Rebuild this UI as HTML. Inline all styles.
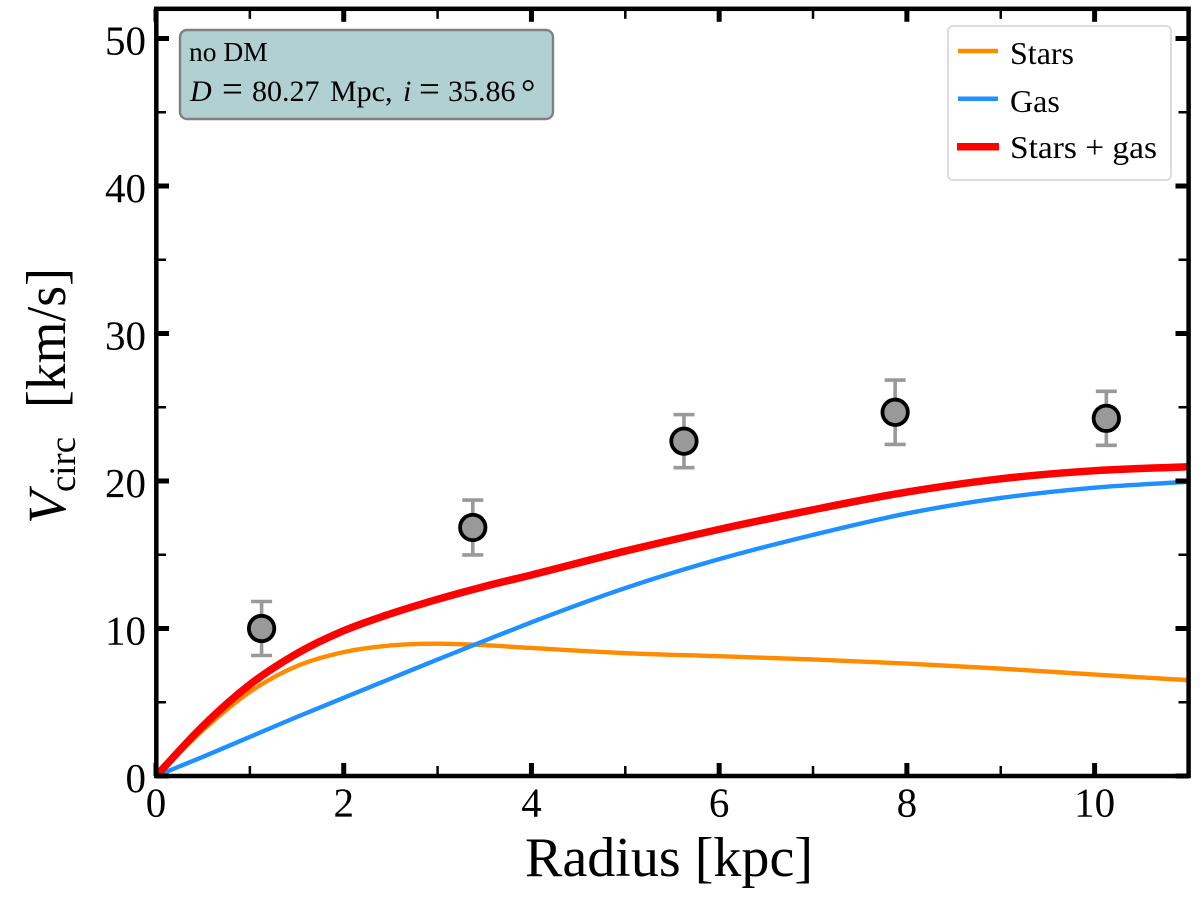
<!DOCTYPE html>
<html lang="en">
<head>
<meta charset="utf-8">
<title>Circular velocity vs radius</title>
<style>
html,body{margin:0;padding:0;background:#fff;width:1200px;height:900px;overflow:hidden}
svg{display:block}
text{font-family:"Liberation Serif",serif;fill:#000}
</style>
</head>
<body>
<svg id="chart" xmlns="http://www.w3.org/2000/svg" width="1200" height="900" viewBox="0 0 1200 900">
  <rect x="0" y="0" width="1200" height="900" fill="#fff"/>
  <defs><clipPath id="plot-clip"><rect x="156" y="8.8" width="1032.5" height="767.2"/></clipPath></defs>
  <g id="errors"></g>
  <g id="curves" clip-path="url(#plot-clip)"></g>
  <g id="markers"></g>
  <g id="ticks"></g>
  <g id="tick-labels" font-size="41"></g>
  <rect x="156.3" y="8.8" width="1032.3" height="767.2" fill="none" stroke="#000" stroke-width="4.5"/>

  <text x="525" y="876" font-size="56" textLength="288" lengthAdjust="spacingAndGlyphs">Radius [kpc]</text>
  <g transform="translate(65,0) rotate(-90)">
    <text x="-524" y="0" font-size="54" font-style="italic">V</text>
    <text x="-492" y="10" font-size="37" textLength="55" lengthAdjust="spacingAndGlyphs">circ</text>
    <text x="-408" y="0" font-size="56" textLength="140" lengthAdjust="spacingAndGlyphs">[km/s]</text>
  </g>

  <g>
    <rect x="180" y="30" width="373" height="89" rx="7" ry="7" fill="#b0d0d2" stroke="#808080" stroke-width="2.4"/>
    <text x="189" y="61" font-size="27.5">no DM</text>
    <text y="101" font-size="30">
      <tspan x="190" font-style="italic">D</tspan><tspan x="222" font-size="37">=</tspan><tspan x="252">80.27</tspan><tspan x="330">Mpc,</tspan><tspan x="403" font-style="italic">i</tspan><tspan x="419" font-size="37">=</tspan><tspan x="448">35.86</tspan><tspan x="521" dy="3" font-size="36">°</tspan>
    </text>
  </g>

  <g>
    <rect x="948" y="26" width="223" height="154" rx="5" ry="5" fill="#fff" fill-opacity="0.9" stroke="#dcdcdc" stroke-width="2"/>
    <line x1="958" x2="998" y1="51" y2="51" stroke="#ff8c00" stroke-width="4.5"/>
    <text x="1010" y="64" font-size="32">Stars</text>
    <line x1="958" x2="998" y1="98.7" y2="98.7" stroke="#1e90ff" stroke-width="4.5"/>
    <text x="1010" y="112" font-size="32">Gas</text>
    <line x1="957" x2="999" y1="146.7" y2="146.7" stroke="#ff0000" stroke-width="7.5"/>
    <text x="1010" y="158" font-size="32" textLength="147" lengthAdjust="spacingAndGlyphs">Stars + gas</text>
  </g>
</svg>
<script>
const radius = [0, 0.5, 1, 1.5, 2, 2.5, 3, 3.5, 4, 5, 6, 7, 8, 9, 10, 11];
const starsV = [0, 3.1, 5.7, 7.45, 8.4, 8.85, 8.97, 8.87, 8.68, 8.33, 8.12, 7.9, 7.62, 7.28, 6.88, 6.5];
const gasV = [0, 1.3, 2.65, 4.0, 5.3, 6.6, 7.9, 9.17, 10.42, 12.74, 14.7, 16.35, 17.8, 18.85, 19.55, 19.95];
const totalV = [0, 3.39, 6.2, 8.3, 9.85, 11.0, 11.98, 12.85, 13.63, 15.25, 16.72, 18.05, 19.25, 20.15, 20.7, 20.97];

const pointR = [1.125, 3.375, 5.625, 7.875, 10.125];
const pointV = [10.0, 16.85, 22.7, 24.66, 24.25];
const pointErr = [1.83, 1.86, 1.8, 2.18, 1.83];

const xMajorTicks = [0, 2, 4, 6, 8, 10];
const xMinorTicks = [1, 3, 5, 7, 9];
const yMajorTicks = [0, 10, 20, 30, 40, 50];
const yMinorTicks = [5, 15, 25, 35, 45];

const SVG_NS = 'http://www.w3.org/2000/svg';
function X(v) { return 156 + v * 93.86; }
function Y(v) { return 776 - v * 14.75; }

function smoothPath(xs, ys) {
  const pts = xs.map(function (x, i) { return [X(x), Y(ys[i])]; });
  const n = pts.length;
  const h = [];
  const s = [];
  for (let i = 0; i < n - 1; i++) {
    h.push(pts[i + 1][0] - pts[i][0]);
    s.push((pts[i + 1][1] - pts[i][1]) / h[i]);
  }
  const m = [s[0]];
  for (let i = 1; i < n - 1; i++) {
    m.push((h[i - 1] * s[i] + h[i] * s[i - 1]) / (h[i - 1] + h[i]));
  }
  m.push(s[n - 2]);
  let d = 'M' + pts[0][0].toFixed(2) + ' ' + pts[0][1].toFixed(2);
  for (let i = 0; i < n - 1; i++) {
    d += 'C' + (pts[i][0] + h[i] / 3).toFixed(2) + ' ' + (pts[i][1] + m[i] * h[i] / 3).toFixed(2) + ' ' +
      (pts[i + 1][0] - h[i] / 3).toFixed(2) + ' ' + (pts[i + 1][1] - m[i + 1] * h[i] / 3).toFixed(2) + ' ' +
      pts[i + 1][0].toFixed(2) + ' ' + pts[i + 1][1].toFixed(2);
  }
  return d;
}

function make(tag, attrs, parent) {
  const el = document.createElementNS(SVG_NS, tag);
  Object.keys(attrs).forEach(function (k) { el.setAttribute(k, attrs[k]); });
  parent.appendChild(el);
  return el;
}

const curves = document.getElementById('curves');
const starsLine = make('path', { d: smoothPath(radius, starsV), fill: 'none', stroke: '#ff8c00', 'stroke-width': 4.4 }, curves);


const gasLine = make('path', { d: smoothPath(radius, gasV), fill: 'none', stroke: '#1e90ff', 'stroke-width': 4.4 }, curves);


const totalLine = make('path', { d: smoothPath(radius, totalV), fill: 'none', stroke: '#ff0000', 'stroke-width': 7.5 }, curves);



const errors = document.getElementById('errors');
const markers = document.getElementById('markers');
pointR.forEach(function (r, i) {
  const cx = X(r);
  const top = Y(pointV[i] + pointErr[i]);
  const bottom = Y(pointV[i] - pointErr[i]);
  const stem = make('line', { x1: cx, x2: cx, y1: top, y2: bottom, stroke: '#999', 'stroke-width': 3.6 }, errors);
  
  
  const capTop = make('line', { x1: cx - 10.5, x2: cx + 10.5, y1: top, y2: top, stroke: '#999', 'stroke-width': 3.6 }, errors);
  
  
  const capBottom = make('line', { x1: cx - 10.5, x2: cx + 10.5, y1: bottom, y2: bottom, stroke: '#999', 'stroke-width': 3.6 }, errors);
  
  
  const dot = make('circle', { cx: cx, cy: Y(pointV[i]), r: 12.7, fill: '#999', stroke: '#000', 'stroke-width': 3.8 }, markers);
  
  
});

const ticks = document.getElementById('ticks');
const labels = document.getElementById('tick-labels');
function addXTicks(values, len, width, labelled) {
  values.forEach(function (v) {
    const px = X(v);
    const low = make('line', { x1: px, x2: px, y1: 776, y2: 776 - len, stroke: '#000', 'stroke-width': width }, ticks);
    
    
    const high = make('line', { x1: px, x2: px, y1: 8.8, y2: 8.8 + len, stroke: '#000', 'stroke-width': width }, ticks);
    
    
    if (labelled) {
      const t = make('text', { x: px, y: 816.7, 'text-anchor': 'middle' }, labels);
      
      
      t.textContent = String(v);
    }
  });
}
function addYTicks(values, len, width, labelled) {
  values.forEach(function (v) {
    const py = Y(v);
    const low = make('line', { x1: 156, x2: 156 + len, y1: py, y2: py, stroke: '#000', 'stroke-width': width }, ticks);
    
    
    const high = make('line', { x1: 1188.5, x2: 1188.5 - len, y1: py, y2: py, stroke: '#000', 'stroke-width': width }, ticks);
    
    
    if (labelled) {
      const t = make('text', { x: 146, y: py + 16, 'text-anchor': 'end' }, labels);
      
      
      t.textContent = String(v);
    }
  });
}
addXTicks(xMajorTicks, 13, 5, true);
addXTicks(xMinorTicks, 10, 2.5, false);
addYTicks(yMajorTicks, 13, 5, true);
addYTicks(yMinorTicks, 10, 2.5, false);
</script>
</body>
</html>
